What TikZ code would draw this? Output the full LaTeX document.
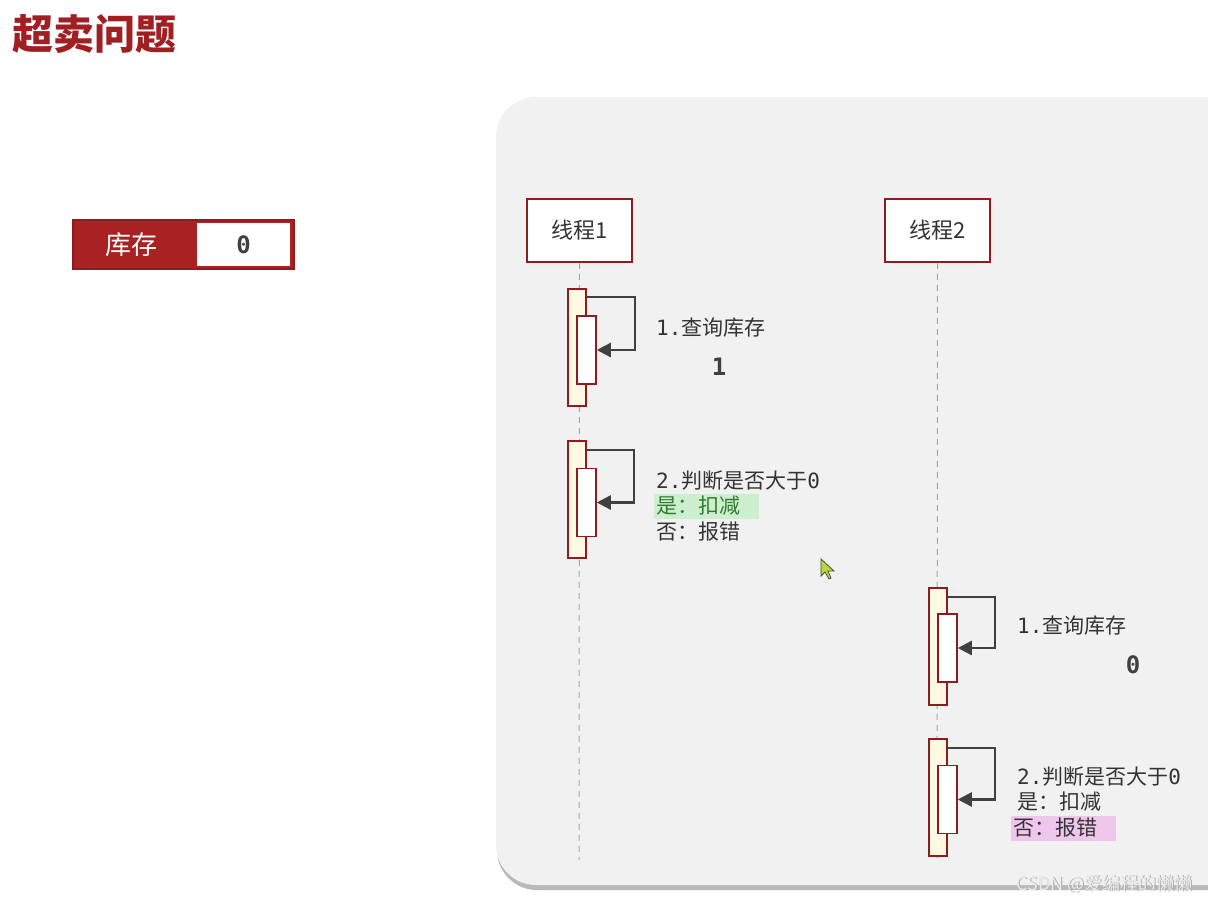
\documentclass[tikz,border=0pt]{standalone}
\usepackage{fontspec}
\newfontfamily\cjk{Noto Sans CJK SC}
\newfontfamily\mono{DejaVu Sans Mono}
\usetikzlibrary{arrows.meta,calc}
\definecolor{darkred}{HTML}{8E1B1E}
\definecolor{titlered}{HTML}{A11E22}
\definecolor{boxred}{HTML}{A82224}
\definecolor{panel}{HTML}{F1F1F1}
\definecolor{actfill}{HTML}{FFF8E3}
\definecolor{txt}{HTML}{333333}
\definecolor{hlgreen}{HTML}{CDEFCD}
\definecolor{hlpink}{HTML}{EFC6EC}
\definecolor{cursorg}{HTML}{B9D63A}
\tikzset{
  x=1pt, y=-1pt,
  actor/.style={draw=darkred, line width=1.6pt, fill=white, minimum width=105pt, minimum height=63pt, inner sep=0pt, font=\cjk\fontsize{22}{24}\selectfont, text=txt},
  actout/.style={draw=darkred, line width=1.5pt, fill=actfill, minimum width=18pt, minimum height=117pt, inner sep=0pt},
  actin/.style={draw=darkred, line width=1.5pt, fill=white, minimum width=19pt, minimum height=68pt, inner sep=0pt},
  life/.style={draw=gray!70, line width=1pt, dash pattern=on 6pt off 5pt},
  msg/.style={draw=black!75, line width=2.4pt, -{Triangle[length=14pt,width=14pt]}},
  lbl/.style={anchor=west, inner sep=0pt, text=txt, font=\cjk\fontsize{21}{26}\selectfont},
  big/.style={inner sep=0pt, text=black!75, font=\mono\bfseries\fontsize{24}{26}\selectfont},
  hl/.style={anchor=west, inner xsep=2pt, inner ysep=0pt, minimum height=25pt, text width=101pt, align=left, font=\cjk\fontsize{21}{26}\selectfont},
}
\begin{document}
\begin{tikzpicture}
\useasboundingbox (0,0) rectangle (1208,902);
\fill[white] (0,0) rectangle (1208,902);
% title
\node[anchor=west, inner sep=0pt, text=titlered, font=\cjk\bfseries\fontsize{41}{44}\selectfont] (title) at (12,34) {超卖问题};
% stock box
\node[anchor=west, fill=boxred, draw=darkred, line width=1.5pt, minimum width=221pt, minimum height=49pt, inner sep=0pt] (stbg) at (72,244.5) {};
\node[anchor=west, inner sep=0pt, text=white, font=\cjk\fontsize{26}{28}\selectfont] (stk) at (105,244.5) {库存};
\node[anchor=west, fill=white, draw=boxred, line width=2pt, minimum width=95pt, minimum height=45pt, inner sep=0pt, text=black!75, font=\mono\bfseries\fontsize{24}{26}\selectfont] (stv) at (195,244.5) {0};
% panel with shadow
\fill[gray!55, rounded corners=40pt] (497,101) rectangle (1260,890);
\fill[panel, rounded corners=40pt] (496,97) rectangle (1260,885);
\clip (0,0) rectangle (1208,902);
% actors
\node[actor] (t1) at (579.5,230.5) {线程1};
\node[actor] (t2) at (937.5,230.5) {线程2};
\coordinate (e1) at (579,860);
\coordinate (e2) at (937,858);
\draw[life] (t1.south) -- (e1);
\draw[life] (t2.south) -- (e2);
% thread 1 activations
\node[actout] (o1) at (577,347.5) {};
\node[actin] (i1) at (586.5,350) {};
\draw[msg] ($(o1.north east)+(0,9)$) -- ++(48,0) |- (i1.east);
\node[actout] (o2) at (577,499.5) {};
\node[actin] (i2) at (586.5,502.5) {};
\draw[msg] ($(o2.north east)+(0,10)$) -- ++(47,0) |- (i2.east);
% thread 2 activations
\node[actout] (o3) at (938,646.5) {};
\node[actin] (i3) at (947.5,648) {};
\draw[msg] ($(o3.north east)+(0,10)$) -- ++(47,0) |- (i3.east);
\node[actout] (o4) at (938,797.5) {};
\node[actin] (i4) at (947.5,799.5) {};
\draw[msg] ($(o4.north east)+(0,10)$) -- ++(47,0) |- (i4.east);
% labels thread 1
\node[lbl] (l1) at (656,328) {{\mono 1.}查询库存};
\node[big] (v1) at (719,367) {1};
\node[lbl] (l2) at (656,481) {{\mono 2.}判断是否大于{\mono 0}};
\node[hl, fill=hlgreen, text=green!35!black!80] (l3) at (654,506) {是：扣减};
\node[lbl] (l4) at (656,532) {否：报错};
% labels thread 2
\node[lbl] (l5) at (1017,626) {{\mono 1.}查询库存};
\node[big] (v2) at (1133,665) {0};
\node[lbl] (l6) at (1017,777) {{\mono 2.}判断是否大于{\mono 0}};
\node[lbl] (l7) at (1017,802) {是：扣减};
\node[hl, fill=hlpink, text=txt] (l8) at (1011,828) {否：报错};
% cursor
\filldraw[fill=cursorg, draw=black!70, line width=0.8pt] (821,559) -- (821,576) -- (825,572) -- (829,579) -- (831,578) -- (828,571) -- (834,571) -- cycle;
% watermark
\node[anchor=east, inner sep=0pt, text=gray!65, font=\cjk\fontsize{18}{20}\selectfont] (wm0) at (1193.6,884.6) {CSDN @爱编程的懒懒};
\node[anchor=east, inner sep=0pt, text=gray!15, font=\cjk\fontsize{18}{20}\selectfont] (wm) at (1193,884) {CSDN @爱编程的懒懒};
\end{tikzpicture}
\end{document}
